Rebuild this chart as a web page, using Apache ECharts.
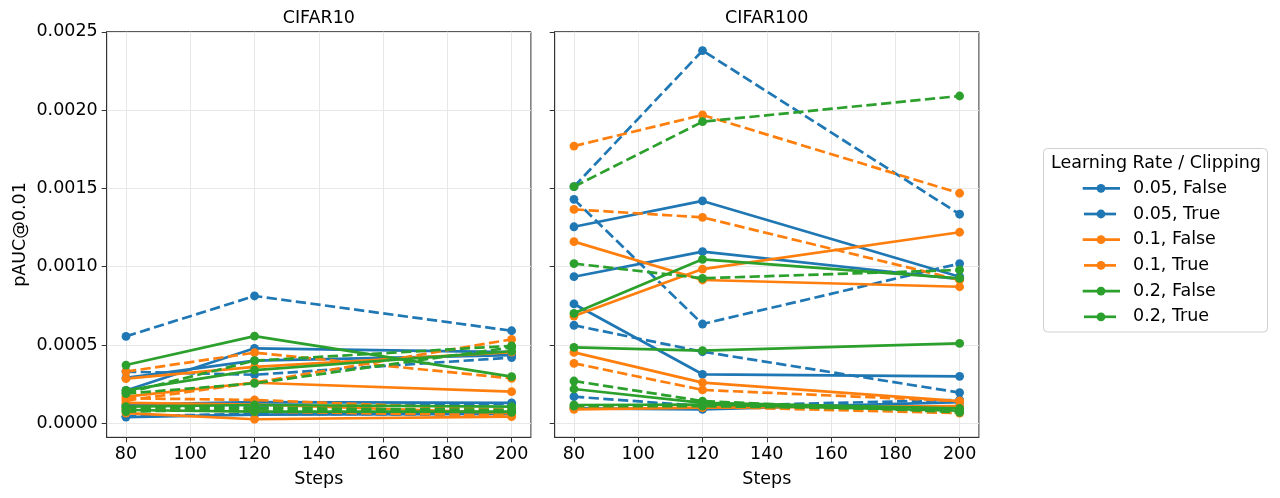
<!DOCTYPE html>
<html><head><meta charset="utf-8">
<script src="https://cdn.jsdelivr.net/npm/echarts@6/dist/echarts.min.js"></script>
<style>html,body{margin:0;padding:0;background:#fff}#c{width:1280px;height:498px}</style>
</head><body><div id="c"></div>
<script>
// ---------- data ----------
const steps = [80, 120, 200];
const xTicks = [80, 100, 120, 140, 160, 180, 200];
const yTicks = [0, 0.0005, 0.0010, 0.0015, 0.0020, 0.0025];
const panelTitles = ['CIFAR10', 'CIFAR100'];
const legendTitle = 'Learning Rate / Clipping';
const legendLabels = ['0.05, False', '0.05, True', '0.1, False', '0.1, True', '0.2, False', '0.2, True'];

// CIFAR10 (each inner array = one run: values at steps 80, 120, 200)
const c10_005_F = [[2.10e-4, 4.79e-4, 4.55e-4], [2.90e-4, 4.00e-4, 4.35e-4], [1.20e-4, 1.35e-4, 1.30e-4], [0.40e-4, 0.55e-4, 0.60e-4]];
const c10_005_T = [[5.55e-4, 8.13e-4, 5.91e-4], [3.30e-4, 3.10e-4, 4.20e-4], [1.10e-4, 1.00e-4, 1.25e-4], [0.45e-4, 0.60e-4, 0.55e-4]];
const c10_01_F  = [[2.85e-4, 3.60e-4, 4.55e-4], [1.70e-4, 2.59e-4, 2.02e-4], [0.65e-4, 0.26e-4, 0.42e-4], [1.30e-4, 1.20e-4, 0.65e-4]];
const c10_01_T  = [[3.30e-4, 4.51e-4, 2.87e-4], [1.45e-4, 2.60e-4, 5.36e-4], [1.60e-4, 1.49e-4, 0.85e-4], [0.90e-4, 0.75e-4, 0.50e-4]];
const c10_02_F  = [[3.72e-4, 5.57e-4, 2.98e-4], [2.10e-4, 3.40e-4, 4.60e-4], [1.06e-4, 1.17e-4, 1.06e-4], [0.85e-4, 0.74e-4, 0.75e-4]];
const c10_02_T  = [[1.94e-4, 4.00e-4, 4.95e-4], [1.90e-4, 2.55e-4, 4.85e-4], [1.00e-4, 0.98e-4, 0.85e-4], [0.75e-4, 0.90e-4, 0.70e-4]];

// CIFAR100
const c100_005_F = [[12.55e-4, 14.20e-4, 9.36e-4], [9.36e-4, 10.96e-4, 9.20e-4], [7.62e-4, 3.13e-4, 3.00e-4], [0.95e-4, 0.89e-4, 1.35e-4]];
const c100_005_T = [[15.11e-4, 23.80e-4, 13.35e-4], [14.30e-4, 6.34e-4, 10.20e-4], [6.26e-4, 4.57e-4, 1.96e-4], [1.70e-4, 1.10e-4, 1.49e-4]];
const c100_01_F  = [[11.60e-4, 9.15e-4, 8.72e-4], [6.85e-4, 9.85e-4, 12.20e-4], [4.53e-4, 2.60e-4, 1.42e-4], [0.89e-4, 1.00e-4, 1.10e-4]];
const c100_01_T  = [[17.70e-4, 19.69e-4, 14.69e-4], [13.66e-4, 13.15e-4, 9.15e-4], [3.83e-4, 2.13e-4, 1.42e-4], [1.00e-4, 1.05e-4, 0.65e-4]];
const c100_02_F  = [[7.02e-4, 10.47e-4, 9.26e-4], [4.85e-4, 4.64e-4, 5.10e-4], [2.19e-4, 1.30e-4, 0.95e-4], [1.17e-4, 1.20e-4, 0.80e-4]];
const c100_02_T  = [[15.11e-4, 19.26e-4, 20.90e-4], [10.20e-4, 9.26e-4, 9.79e-4], [2.70e-4, 1.42e-4, 0.70e-4], [1.10e-4, 1.10e-4, 0.85e-4]];

// ---------- styling ----------
const FONT = 'DejaVu Sans';
const FS = 17.5;
const groupColors = ['#1f77b4', '#1f77b4', '#ff7f0e', '#ff7f0e', '#2ca02c', '#2ca02c'];
const groupDashed = [false, true, false, true, false, true];
const panels = [
  [c10_005_F, c10_005_T, c10_01_F, c10_01_T, c10_02_F, c10_02_T],
  [c100_005_F, c100_005_T, c100_01_F, c100_01_T, c100_02_F, c100_02_T]
];
const LW = 2.7, DASH = [10.3, 4.4], MS = 8.8;
const Y_MIN = -0.0000894, Y_MAX = 0.0025006;
const grids = [
  {left: 106.7, top: 31.7, width: 424.2, height: 405.6},
  {left: 554.7, top: 31.7, width: 424.2, height: 405.6}
];

const series = [];
panels.forEach((groups, p) => {
  groups.forEach((runs, g) => {
    runs.forEach(run => {
      series.push({
        type: 'line', name: legendLabels[g], xAxisIndex: p, yAxisIndex: p,
        data: steps.map((s, i) => [s, run[i]]),
        symbol: 'circle', symbolSize: MS, showSymbol: true,
        lineStyle: {color: groupColors[g], width: LW, type: groupDashed[g] ? DASH : 'solid'},
        itemStyle: {color: groupColors[g]},
        emphasis: {disabled: true}, silent: true, animation: false
      });
    });
  });
});

const axisCommonLine = {show: true, onZero: false, lineStyle: {color: '#333', width: 1}};
const xAxes = [0, 1].map(p => ({
  gridIndex: p, type: 'value', min: 74, max: 206,
  axisLine: axisCommonLine,
  axisTick: {show: true, length: 5, inside: false, lineStyle: {color: '#333', width: 1}, customValues: xTicks},
  axisLabel: {show: true, customValues: xTicks, margin: 8, color: '#000', fontFamily: FONT, fontSize: FS},
  splitLine: {show: true, lineStyle: {color: '#e8e8e8', width: 1}},
  name: 'Steps', nameLocation: 'middle', nameGap: 33,
  nameTextStyle: {color: '#000', fontFamily: FONT, fontSize: FS}
}));
const yAxes = [0, 1].map(p => ({
  gridIndex: p, type: 'value', min: Y_MIN, max: Y_MAX,
  axisLine: axisCommonLine,
  axisTick: {show: true, length: 5, inside: false, lineStyle: {color: '#333', width: 1}, customValues: yTicks},
  axisLabel: {show: p === 0, customValues: yTicks, margin: 9, color: '#000', fontFamily: FONT, fontSize: FS,
    formatter: v => Number(v).toFixed(4)},
  splitLine: {show: true, lineStyle: {color: '#e8e8e8', width: 1}}
}));

const graphics = [];
panelTitles.forEach((t, p) => {
  graphics.push({type: 'text', x: grids[p].left + grids[p].width / 2, y: 18,
    style: {text: t, fill: '#000', font: FS + 'px "' + FONT + '"', textAlign: 'center', textVerticalAlign: 'middle'}});
});
graphics.push({type: 'text', x: 20, y: 234.5, rotation: Math.PI / 2,
  style: {text: 'pAUC@0.01', fill: '#000', font: FS + 'px "' + FONT + '"', textAlign: 'center', textVerticalAlign: 'middle'}});
// legend box
graphics.push({type: 'rect', shape: {x: 1043.5, y: 148.5, width: 224, height: 183.5, r: 4},
  style: {fill: '#fff', stroke: '#d0d0d0', lineWidth: 1}});
graphics.push({type: 'text', x: 1156, y: 163,
  style: {text: legendTitle, fill: '#000', font: FS + 'px "' + FONT + '"', textAlign: 'center', textVerticalAlign: 'middle'}});
legendLabels.forEach((lab, i) => {
  const y = 188.3 + i * 25.7;
  const x1 = groupDashed[i] ? 1084 : 1082.7, x2 = groupDashed[i] ? 1116 : 1120;
  graphics.push({type: 'line', shape: {x1: x1, y1: y, x2: x2, y2: y}, style: {stroke: groupColors[i], lineWidth: LW}});
  graphics.push({type: 'circle', shape: {cx: 1101, cy: y, r: MS / 2}, style: {fill: groupColors[i]}});
  graphics.push({type: 'text', x: 1133, y: y,
    style: {text: lab, fill: '#000', font: FS + 'px "' + FONT + '"', textAlign: 'left', textVerticalAlign: 'middle'}});
});

const chart = echarts.init(document.getElementById('c'), null, {renderer: 'canvas'});
chart.setOption({
  animation: false,
  backgroundColor: '#fff',
  grid: grids.map(g => Object.assign({show: true, borderColor: '#333', borderWidth: 1, backgroundColor: 'transparent'}, g)),
  xAxis: xAxes,
  yAxis: yAxes,
  series: series,
  graphic: graphics
});
</script>
</body></html>
